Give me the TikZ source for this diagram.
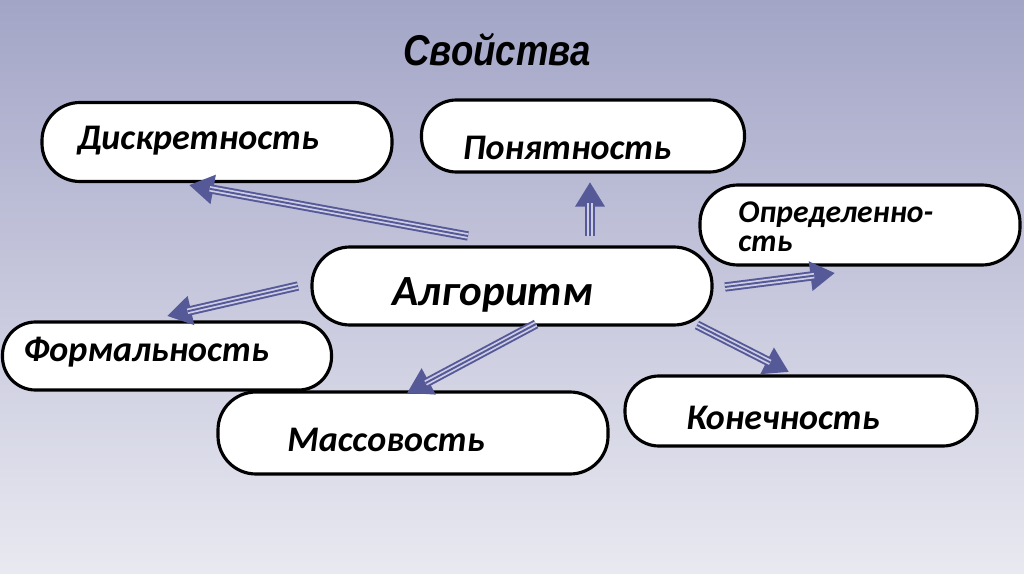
\documentclass[tikz,border=0pt]{standalone}
\usepackage{fontspec}
\setmainfont{Carlito}
\newfontfamily\headfont{Liberation Sans}
\usetikzlibrary{arrows.meta,positioning}

\definecolor{slate}{RGB}{86,89,152}
\definecolor{gapcol}{RGB}{205,205,228}
\definecolor{bgtop}{RGB}{163,165,199}
\definecolor{bgbot}{RGB}{233,233,241}

\def\pxu{0.02cm}

\tikzset{
  prop/.style={draw=black, line width=1.8pt, fill=white, rounded corners=38*\pxu},
  word/.style={font=\bfseries\itshape\fontsize{20.5}{24}\selectfont, inner sep=0pt},
  link/.style={draw=slate, line width=5.3pt, -{Triangle[length=14pt,width=16pt]},
    postaction={draw=gapcol, line width=3.1pt, arrows=-, shorten >=12pt},
    postaction={draw=slate, line width=1.1pt, arrows=-, shorten >=12pt}}
}

\begin{document}
\begin{tikzpicture}[x=0.02cm,y=-0.02cm]
\fill[top color=bgtop, bottom color=bgbot] (0,0) rectangle (1024,574);

\node[font=\headfont\bfseries\itshape\fontsize{24.5}{28}\selectfont, xscale=0.85] (title) at (497,50) {Свойства};

% boxes
\node[prop, minimum width=350*\pxu, minimum height=79*\pxu] (disc) at (217,142) {};
\node[word] (disc-t) at (198,141) {Дискретность};

\node[prop, rounded corners=35*\pxu, minimum width=323*\pxu, minimum height=72*\pxu] (clear) at (583,136) {};
\node[word] (clear-t) at (567,148) {Понятность};

\node[prop, minimum width=320*\pxu, minimum height=80*\pxu] (defin) at (860,225) {};
\node[word, font=\bfseries\itshape\fontsize{18}{16.5}\selectfont, align=left, anchor=west] (defin-t) at (738,227) {Определенно-\\сть};

\node[prop, minimum width=400*\pxu, minimum height=78*\pxu] (alg) at (512,286) {};
\node[word, font=\bfseries\itshape\fontsize{24.5}{28}\selectfont] (alg-t) at (493,295) {Алгоритм};

\node[prop, rounded corners=33*\pxu, minimum width=329*\pxu, minimum height=68*\pxu] (form) at (167,356) {};
\node[word] (form-t) at (146,352) {Формальность};

\node[prop, minimum width=390*\pxu, minimum height=82*\pxu] (mass) at (413,433) {};
\node[word] (mass-t) at (386,440) {Массовость};

\node[prop, rounded corners=34*\pxu, minimum width=352*\pxu, minimum height=70*\pxu] (fin) at (801,411) {};
\node[word] (fin-t) at (783,418) {Конечность};

% arrows
\coordinate (disc-a) at (468,236);  \coordinate (disc-b) at (189,185);
\coordinate (clear-a) at (590,236); \coordinate (clear-b) at (590,182);
\coordinate (defin-a) at (725,287); \coordinate (defin-b) at (835,273);
\coordinate (mass-a) at (536,324);  \coordinate (mass-b) at (407,393);
\coordinate (fin-a) at (697,325);   \coordinate (fin-b) at (789,372);
\coordinate (form-a) at (298,286);  \coordinate (form-b) at (167,316);

\draw[link] (disc-a) -- (disc-b);
\draw[link] (clear-a) -- (clear-b);
\draw[link] (defin-a) -- (defin-b);
\draw[link] (mass-a) -- (mass-b);
\draw[link] (fin-a) -- (fin-b);
\draw[link] (form-a) -- (form-b);
\end{tikzpicture}
\end{document}
